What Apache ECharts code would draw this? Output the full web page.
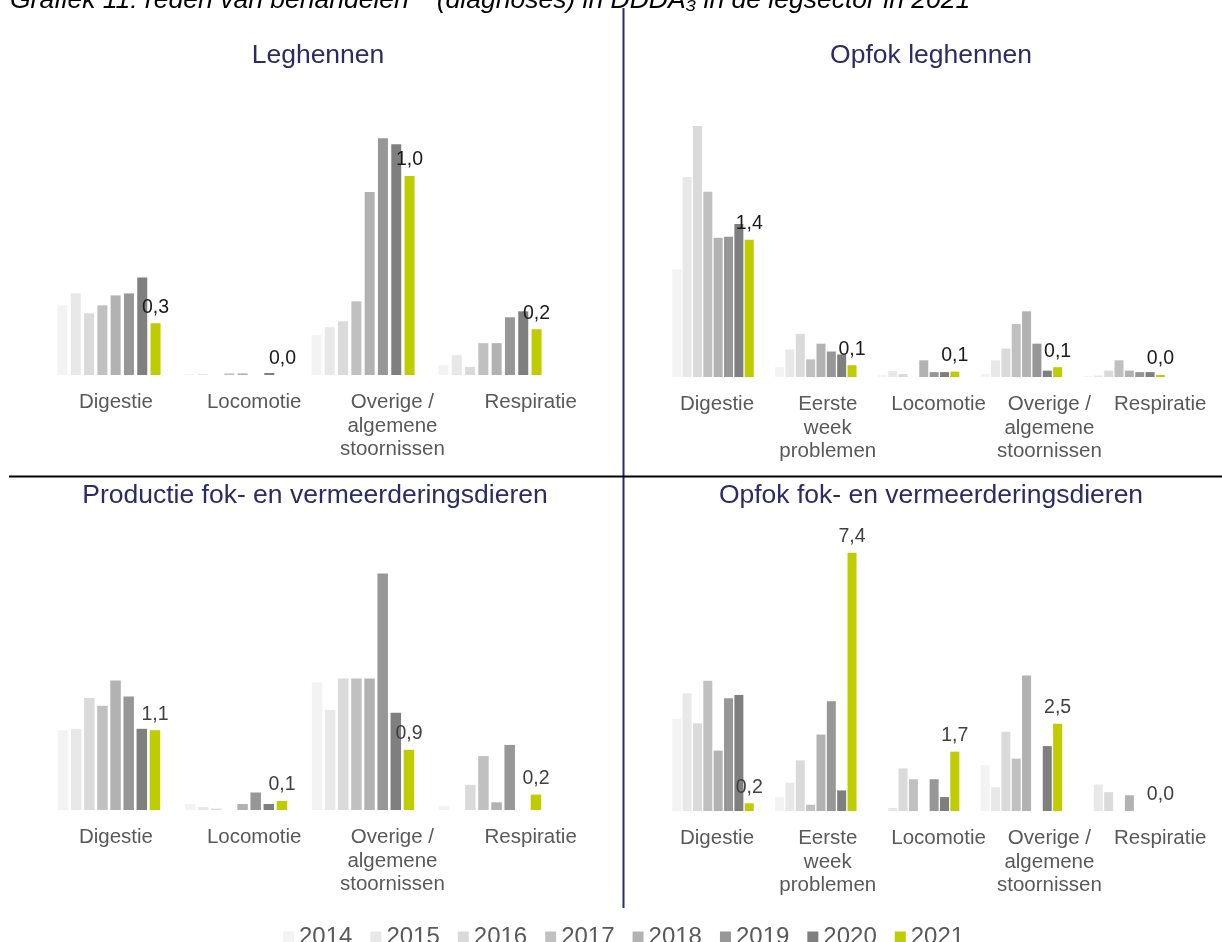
<!DOCTYPE html>
<html lang="nl">
<head>
    <meta charset="UTF-8"/>
    <title>Grafiek 11</title>
    <script src="https://cdn.jsdelivr.net/npm/echarts@6/dist/echarts.min.js"></script>
    <style>body{margin:0;}</style>
</head>
<body>
<div id="main" style="width:1222px;height:942px;"></div>
<script type="text/javascript">
    var jaren = ['2014', '2015', '2016', '2017', '2018', '2019', '2020', '2021'];
    var kleuren = ['#F3F3F4', '#E8E8E8', '#DADADA', '#C0C0C0', '#B2B2B2', '#979797', '#7F7F7F', '#BFCD00'];

    var catsA = ['Digestie', 'Locomotie', 'Overige /\nalgemene\nstoornissen', 'Respiratie'];
    var catsB = ['Digestie', 'Eerste\nweek\nproblemen', 'Locomotie', 'Overige /\nalgemene\nstoornissen', 'Respiratie'];

    // een rij per jaar (2014 t/m 2021), een kolom per categorie
    var leghennen = [
        [0.35, 0.005, 0.20, 0.05],
        [0.41, 0.005, 0.24, 0.10],
        [0.31, 0, 0.27, 0.04],
        [0.35, 0.008, 0.37, 0.16],
        [0.40, 0.008, 0.92, 0.16],
        [0.41, 0, 1.19, 0.29],
        [0.49, 0.01, 1.16, 0.32],
        [0.26, 0, 1.00, 0.23]
    ];
    var opfokLeghennen = [
        [1.10, 0.10, 0.02, 0.03, 0.01],
        [2.04, 0.28, 0.06, 0.17, 0.015],
        [2.56, 0.44, 0.03, 0.29, 0.065],
        [1.89, 0.18, 0, 0.54, 0.17],
        [1.42, 0.34, 0.17, 0.67, 0.065],
        [1.43, 0.26, 0.05, 0.34, 0.05],
        [1.56, 0.23, 0.05, 0.065, 0.05],
        [1.40, 0.12, 0.055, 0.10, 0.02]
    ];
    var productieFok = [
        [1.14, 0.086, 1.82, 0.06],
        [1.16, 0.043, 1.43, 0],
        [1.60, 0.02, 1.88, 0.36],
        [1.49, 0, 1.88, 0.77],
        [1.85, 0.086, 1.88, 0.11],
        [1.62, 0.25, 3.38, 0.93],
        [1.16, 0.086, 1.39, 0],
        [1.14, 0.13, 0.86, 0.22]
    ];
    var opfokFok = [
        [2.64, 0.40, 0, 1.31, 0],
        [3.37, 0.81, 0.09, 0.68, 0.76],
        [2.51, 1.45, 1.22, 2.27, 0.54],
        [3.73, 0.18, 0.91, 1.50, 0],
        [1.73, 2.19, 0, 3.88, 0.45],
        [3.23, 3.14, 0.91, 0, 0],
        [3.32, 0.59, 0.40, 1.86, 0],
        [0.22, 7.40, 1.70, 2.50, 0]
    ];

    // opmaak per deelgrafiek
    var panels = [
        {titel: 'Leghennen', cats: catsA, data: leghennen, max: 1.407, top: 95,
            barLeft: 45.5, barW: 508, labLeft: 46.8, labW: 553, bw: 10, gap: '33%', tx: 313, ty: 37, lab: '#1a1a1a'},
        {titel: 'Opfok leghennen', cats: catsB, data: opfokLeghennen, max: 2.857, top: 97,
            barLeft: 661.6, barW: 514, labLeft: 661.6, labW: 554, bw: 9, gap: '15%', tx: 926, ty: 37, lab: '#1a1a1a'},
        {titel: 'Productie fok- en vermeerderingsdieren', cats: catsA, data: productieFok, max: 4.0, top: 530,
            barLeft: 45.5, barW: 508, labLeft: 46.8, labW: 553, bw: 10.5, gap: '25%', tx: 310, ty: 477, lab: '#404040'},
        {titel: 'Opfok fok- en vermeerderingsdieren', cats: catsB, data: opfokFok, max: 8.02, top: 531,
            barLeft: 661.6, barW: 514, labLeft: 661.6, labW: 554, bw: 9, gap: '15%', tx: 926, ty: 477, lab: '#404040'}
    ];

    var myChart = echarts.init(document.getElementById('main'));

    var option = {
        animation: false,
        backgroundColor: '#fff',
        textStyle: {fontFamily: 'Liberation Sans, Arial, sans-serif'},
        title: [{
            text: 'Grafiek 11: reden van behandelen** (diagnoses) in DDDA₃ in de legsector in 2021',
            left: 5,
            top: -18,
            textStyle: {fontSize: 26.5, fontStyle: 'italic', fontWeight: 'normal', color: '#000'}
        }],
        legend: {
            data: jaren,
            left: 278,
            top: 920,
            icon: 'rect',
            itemWidth: 11,
            itemHeight: 11,
            itemGap: 18,
            textStyle: {fontSize: 24, color: '#595959'}
        },
        grid: [],
        xAxis: [],
        yAxis: [],
        series: [],
        graphic: [
            {type: 'line', shape: {x1: 623.5, y1: 8, x2: 623.5, y2: 908}, style: {stroke: '#2B2A6B', lineWidth: 2}},
            {type: 'line', shape: {x1: 9, y1: 476.5, x2: 1222, y2: 476.5}, style: {stroke: '#000', lineWidth: 2}}
        ]
    };

    panels.forEach(function (p, i) {
        var gBar = i * 2, gLab = i * 2 + 1;
        option.title.push({
            text: p.titel, left: p.tx, top: p.ty, textAlign: 'center',
            textStyle: {fontSize: 26.5, fontWeight: 'normal', color: '#2E2A64'}
        });
        option.grid.push({left: p.barLeft, width: p.barW, top: p.top, height: 280});
        option.grid.push({left: p.labLeft, width: p.labW, top: p.top, height: 280});
        option.xAxis.push({type: 'category', gridIndex: gBar, data: p.cats, show: false});
        option.xAxis.push({
            type: 'category', gridIndex: gLab, data: p.cats,
            axisLine: {show: false}, axisTick: {show: false},
            axisLabel: {interval: 0, fontSize: 20.5, color: '#595959', lineHeight: 23.5, margin: 16}
        });
        option.yAxis.push({type: 'value', gridIndex: gBar, min: 0, max: p.max, show: false});
        option.yAxis.push({type: 'value', gridIndex: gLab, min: 0, max: 1, show: false});
        jaren.forEach(function (jaar, j) {
            option.series.push({
                name: jaar,
                type: 'bar',
                xAxisIndex: gBar,
                yAxisIndex: gBar,
                data: p.data[j],
                barWidth: p.bw,
                barGap: p.gap,
                itemStyle: {color: kleuren[j]},
                label: j === 7 ? {
                    show: true, position: 'top', distance: 6, fontSize: 19.5, color: p.lab,
                    formatter: function (d) { return d.value.toFixed(1).replace('.', ','); }
                } : {show: false}
            });
        });
    });

    myChart.setOption(option);
</script>
</body>
</html>
